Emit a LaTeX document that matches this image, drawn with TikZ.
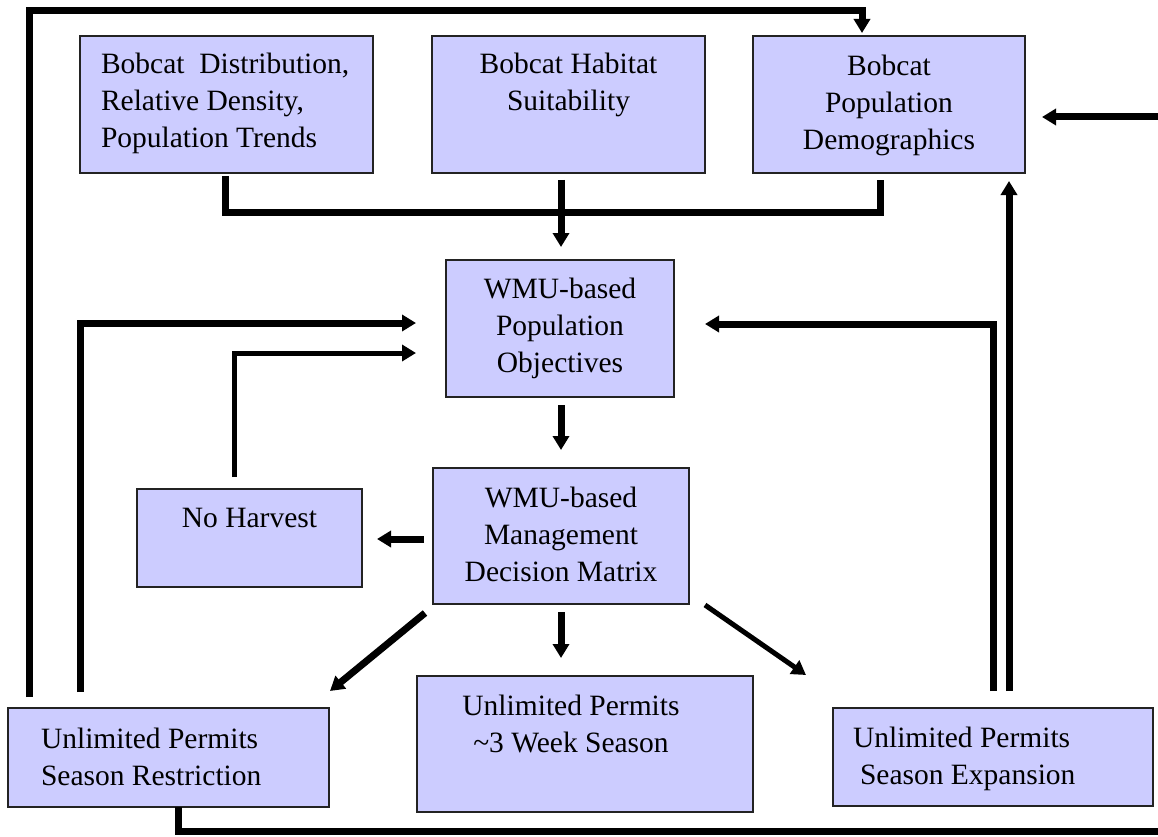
\documentclass[tikz,border=0pt]{standalone}
\usepackage{fontspec}
\setmainfont{Liberation Serif}
\usetikzlibrary{arrows.meta,calc}
\definecolor{boxfill}{RGB}{204,204,255}
\definecolor{boxline}{RGB}{35,35,35}
\begin{document}
\begin{tikzpicture}[x=1pt,y=-1pt,
  box/.style={draw=boxline,line width=1.5pt,fill=boxfill,inner sep=0pt,outer sep=0pt},
  txt/.style={font=\fontsize{29.5pt}{37pt}\selectfont,inner sep=0pt,outer sep=0pt},
  conn/.style={line width=7pt,line join=miter,line cap=butt},
  thinconn/.style={line width=5pt,line join=miter,line cap=butt},
  arr/.style={-{Triangle[length=14pt,width=16pt]}},
]
\useasboundingbox (0,0) rectangle (1158,837);

% boxes
\node[box,minimum width=293pt,minimum height=137pt] (b1) at (226.5,104.5) {};
\node[box,minimum width=273pt,minimum height=137pt] (b2) at (568.5,104.5) {};
\node[box,minimum width=272pt,minimum height=137pt] (b3) at (889,104.5) {};
\node[box,minimum width=228pt,minimum height=137pt] (b4) at (560,328.5) {};
\node[box,minimum width=256pt,minimum height=136pt] (b5) at (561,536) {};
\node[box,minimum width=225pt,minimum height=98pt] (nh) at (249.5,538) {};
\node[box,minimum width=321pt,minimum height=99pt] (b6) at (168.5,757.5) {};
\node[box,minimum width=336pt,minimum height=136pt] (b7) at (585,744) {};
\node[box,minimum width=320pt,minimum height=98pt] (b8) at (993,757) {};

% texts
\node[txt,anchor=north west,align=left] (t1) at (101,53) {Bobcat\ \ Distribution,\\Relative Density,\\Population Trends};
\node[txt,anchor=north,align=center] (t2) at (568.5,53) {Bobcat Habitat\\Suitability};
\node[txt,anchor=north,align=center] (t3) at (889,55) {Bobcat\\Population\\Demographics};
\node[txt,anchor=north,align=center] (t4) at (560,278) {WMU-based\\Population\\Objectives};
\node[txt,anchor=north,align=center] (t5) at (561,487) {WMU-based\\Management\\Decision Matrix};
\node[txt,anchor=north,align=center] (tn) at (249.5,508) {No Harvest};
\node[txt,anchor=north west,align=left] (t6) at (41,728) {Unlimited Permits\\Season Restriction};
\node[txt,anchor=north,align=center] (t7) at (571,695) {Unlimited Permits\\\textasciitilde3 Week Season};
\node[txt,anchor=north west,align=left] (t8) at (853,727) {Unlimited Permits\\\hspace*{7pt}Season Expansion};

% free ends at the picture edge
\coordinate (edgeA) at (1158,117);
\coordinate (edgeB) at (1158,831);

% connectors
\draw[conn,arr] ([shift={(21,-11)}]b6.north west) |- ([shift={(109,-25)}]b3.north west) -- ([shift={(109,-3)}]b3.north west);
\draw[conn,arr] ([shift={(72,-16)}]b6.north west) |- ([shift={(-30,63)}]b4.north west);
\draw[thinconn,arr] ([shift={(97,-12)}]nh.north west) |- ([shift={(-30,93)}]b4.north west);
\draw[conn] ([shift={(-148,3)}]b1.south east) |- ([shift={(127,39)}]b3.south west) -- ([shift={(127,7)}]b3.south west);
\draw[conn,arr] ([shift={(-7.5,7)}]b2.south) -- ([shift={(1,-13)}]b4.north);
\draw[conn,arr] ([shift={(1,8)}]b4.south) -- ([shift={(0,-18)}]b5.north);
\draw[conn,arr] ([shift={(-9,3)}]b5.west) -- ([shift={(15,1)}]nh.east);
\draw[conn,arr] ([shift={(-8,9)}]b5.south west) -- ([shift={(1,-17)}]b6.north east);
\draw[conn,arr] ([shift={(0,8)}]b5.south) -- ([shift={(-24,-18)}]b7.north);
\draw[thinconn,arr] ([shift={(16,1)}]b5.south east) -- ([shift={(-27,-33)}]b8.north west);
\draw[conn,arr] ([shift={(0,-17)}]b8.north) |- ([shift={(31,-4.5)}]b4.east);
\draw[conn,arr] ([shift={(16,-17)}]b8.north) -- ([shift={(-16,8)}]b3.south east);
\draw[conn,arr] (edgeA) -- ([shift={(17,12.5)}]b3.east);
\draw[conn] ([shift={(170,0)}]b6.south west) |- (edgeB);
\end{tikzpicture}
\end{document}
